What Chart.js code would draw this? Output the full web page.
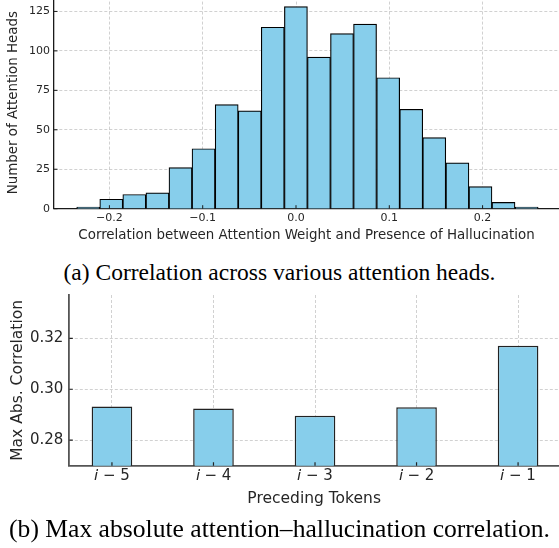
<!DOCTYPE html>
<html><head><meta charset="utf-8">
<script src="https://cdn.jsdelivr.net/npm/chart.js@4.4.0/dist/chart.umd.min.js"></script>
<style>
html,body{margin:0;padding:0;background:#fff;overflow:hidden;width:559px;height:548px;}
#wrap{position:relative;width:559px;height:548px;overflow:hidden;}
.cv{position:absolute;left:0;}
.cap{position:absolute;left:0;width:559px;text-align:center;font-family:"Liberation Serif","Times New Roman",serif;line-height:normal;color:#000;white-space:nowrap;}
</style></head><body>
<div id="wrap">
<div class="cv" style="top:-14px;width:559px;height:264px"><canvas id="c1"></canvas></div>
<div class="cap" style="top:259px;font-size:23.5px">(a) Correlation across various attention heads.</div>
<div class="cv" style="top:280px;width:559px;height:235px"><canvas id="c2"></canvas></div>
<div class="cap" style="top:514px;font-size:25.6px">(b) Max absolute attention–hallucination correlation.</div>
</div>
<script>
// ---- data: histogram of correlations (a) ----
const binCenters = [-0.2227, -0.1980, -0.1733, -0.1485, -0.1238, -0.0991, -0.0743, -0.0496, -0.0249, -0.0001,
                    0.0246, 0.0493, 0.0740, 0.0988, 0.1235, 0.1482, 0.1730, 0.1977, 0.2224, 0.2472];
const headCounts = [1, 6, 9, 10, 26, 38, 66, 62, 115, 128, 96, 111, 117, 83, 63, 45, 29, 14, 4, 1];
const histXTicks = [-0.2, -0.1, 0.0, 0.1, 0.2];
const histYTicks = [0, 25, 50, 75, 100, 125];
const histXTitle = 'Correlation between Attention Weight and Presence of Hallucination';
const histYTitle = 'Number of Attention Heads';

// ---- data: max abs correlation per preceding token (b) ----
const tokenLabels = ['\u{1D62A} \u2212 5', '\u{1D62A} \u2212 4', '\u{1D62A} \u2212 3', '\u{1D62A} \u2212 2', '\u{1D62A} \u2212 1'];
const corrValues = [0.2932, 0.2925, 0.2896, 0.2929, 0.3171];
const corrYTicks = [0.28, 0.30, 0.32];
const corrXTitle = 'Preceding Tokens';
const corrYTitle = 'Max Abs. Correlation';

const FONT = 'DejaVu Sans';
const TXT = '#262626';
const GRID = 'rgba(140,140,140,0.5)';
const BAR = '#87CEEB';

const inwardTicks = {
  id: 'inwardTicks',
  afterDraw(chart, args, opts) {
    const {ctx, chartArea: a, scales: {x, y}} = chart;
    ctx.save();
    ctx.strokeStyle = opts.color; ctx.lineWidth = opts.width;
    ctx.beginPath();
    x.ticks.forEach(t => { const px = x.getPixelForValue(t.value); ctx.moveTo(px, a.bottom); ctx.lineTo(px, a.bottom - opts.len); });
    y.ticks.forEach(t => { const py = y.getPixelForValue(t.value); ctx.moveTo(a.left, py); ctx.lineTo(a.left + opts.len, py); });
    ctx.stroke();
    ctx.restore();
  }
};

const fmt1 = v => (v < -1e-9 ? '\u2212' : '') + Math.abs(v).toFixed(1);

new Chart(document.getElementById('c1'), {
  type: 'bar',
  data: { datasets: [{
    data: binCenters.map((x, i) => ({x: x, y: headCounts[i]})),
    backgroundColor: BAR, borderColor: '#000', borderWidth: 1.2,
    barPercentage: 1, categoryPercentage: 1, borderSkipped: 'start'
  }]},
  options: {
    animation: false, responsive: true, maintainAspectRatio: false, devicePixelRatio: 1,
    layout: { padding: 0 },
    plugins: { legend: {display: false}, tooltip: {enabled: false},
               inwardTicks: {color: '#1a1a1a', width: 1, len: 3.5} },
    scales: {
      x: { type: 'linear', min: -0.2594, max: 0.2819, offset: false, z: 1,
           afterBuildTicks: s => { s.ticks = histXTicks.map(v => ({value: v})); },
           afterFit: s => { s.height = 41.3; },
           ticks: { callback: v => fmt1(v), font: {family: FONT, size: 11}, color: TXT, padding: 3, maxRotation: 0, autoSkip: false },
           grid: { color: GRID, lineWidth: 0.8, drawTicks: false, offset: false },
           border: { color: '#1a1a1a', width: 1.3, dash: [3, 2] },
           title: { display: true, text: histXTitle, color: TXT, font: {family: FONT, size: 13.4}, padding: {top: 0, bottom: 6.6} } },
      y: { min: 0, max: 134.4, z: 1,
           afterBuildTicks: s => { s.ticks = histYTicks.map(v => ({value: v})); },
           afterFit: s => { s.width = 54; },
           ticks: { callback: v => String(v), font: {family: FONT, size: 11}, color: TXT, padding: 4 },
           grid: { color: GRID, lineWidth: 0.8, drawTicks: false },
           border: { color: '#1a1a1a', width: 1.3, dash: [3, 2] },
           title: { display: true, text: histYTitle, color: TXT, font: {family: FONT, size: 13.4}, padding: {top: 5.8, bottom: 0} } }
    }
  },
  plugins: [inwardTicks]
});

new Chart(document.getElementById('c2'), {
  type: 'bar',
  data: { datasets: [{
    data: corrValues.map((v, i) => ({x: i, y: v})),
    backgroundColor: BAR, borderColor: '#222', borderWidth: 1.5,
    barPercentage: 0.4, categoryPercentage: 1, borderSkipped: 'start'
  }]},
  options: {
    animation: false, responsive: true, maintainAspectRatio: false, devicePixelRatio: 1,
    layout: { padding: 0 },
    plugins: { legend: {display: false}, tooltip: {enabled: false},
               inwardTicks: {color: '#222', width: 1.2, len: 3.5} },
    scales: {
      x: { type: 'linear', min: -0.42, max: 4.403, offset: false, z: 1,
           afterBuildTicks: s => { s.ticks = tokenLabels.map((_, i) => ({value: i})); },
           afterFit: s => { s.height = 49.3; },
           ticks: { callback: v => tokenLabels[v], font: {family: FONT, size: 15}, color: TXT, padding: 1.8, maxRotation: 0, autoSkip: false },
           grid: { color: GRID, lineWidth: 0.8, drawTicks: false, offset: false },
           border: { color: '#555', width: 1.8, dash: [3, 2] },
           title: { display: true, text: corrXTitle, color: TXT, font: {family: FONT, size: 15.5}, padding: {top: 0, bottom: 7.1} } },
      y: { min: 0.27, max: 0.337, z: 1,
           afterBuildTicks: s => { s.ticks = corrYTicks.map(v => ({value: v})); },
           afterFit: s => { s.width = 69.3; },
           ticks: { callback: v => v.toFixed(2), font: {family: FONT, size: 15}, color: TXT, padding: 6 },
           grid: { color: GRID, lineWidth: 0.8, drawTicks: false },
           border: { color: '#555', width: 1.8, dash: [3, 2] },
           title: { display: true, text: corrYTitle, color: TXT, font: {family: FONT, size: 15.5}, padding: {top: 8.3, bottom: 0} } }
    }
  },
  plugins: [inwardTicks]
});
</script>
</body></html>
